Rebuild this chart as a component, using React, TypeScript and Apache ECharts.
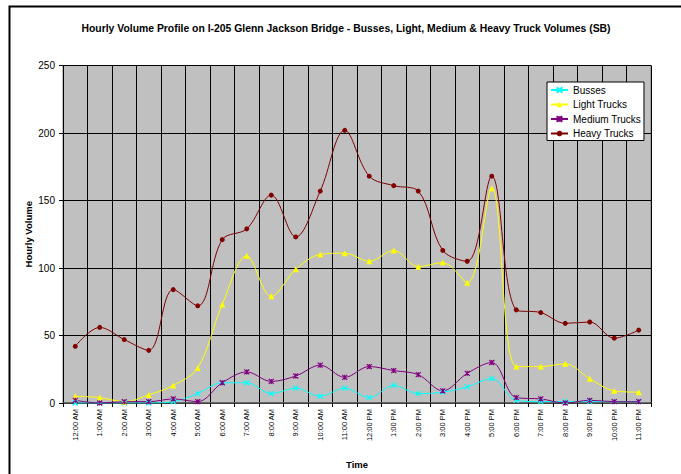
import React, { useEffect, useRef } from 'react';
import * as echarts from 'echarts';

const hours = [
  '12:00 AM', '1:00 AM', '2:00 AM', '3:00 AM', '4:00 AM', '5:00 AM',
  '6:00 AM', '7:00 AM', '8:00 AM', '9:00 AM', '10:00 AM', '11:00 AM',
  '12:00 PM', '1:00 PM', '2:00 PM', '3:00 PM', '4:00 PM', '5:00 PM',
  '6:00 PM', '7:00 PM', '8:00 PM', '9:00 PM', '10:00 PM', '11:00 PM',
];
const busses = [0, 0, 0, 0, 1, 7, 15, 15, 7, 11, 5, 11, 4, 13, 7, 8, 12, 18, 2, 1, 1, 1, 1, 1];
const lightTrucks = [5, 4, 1, 6, 13, 26, 73, 109, 79, 99, 110, 111, 105, 113, 101, 104, 89, 159, 27, 27, 29, 18, 9, 8];
const mediumTrucks = [2, 0, 1, 1, 3, 1, 15, 23, 16, 20, 28, 19, 27, 24, 21, 9, 22, 30, 4, 3, 0, 2, 1, 1];
const heavyTrucks = [42, 56, 47, 39, 84, 72, 121, 129, 154, 123, 157, 202, 168, 161, 157, 113, 105, 168, 69, 67, 59, 60, 48, 54];
const yMin = 0;
const yMax = 250;
const yInterval = 50;

const FONT = '"Liberation Sans", Arial, sans-serif';

export default function App() {
  const ref = useRef<HTMLDivElement>(null);
  useEffect(() => {
    const chart = echarts.init(ref.current!, null, { renderer: 'svg' });
    const smooth = 0.35;
    chart.setOption({
      animation: false,
      backgroundColor: '#ffffff',
      textStyle: { fontFamily: FONT },
      title: {
        text: 'Hourly Volume Profile on I-205 Glenn Jackson Bridge - Busses, Light, Medium & Heavy Truck Volumes (SB)',
        left: 346,
        top: 23,
        padding: 0,
        textAlign: 'center',
        textStyle: { fontSize: 10.4, fontWeight: 'bold', color: '#000', fontFamily: FONT },
      },
      legend: {
        orient: 'vertical',
        left: 547,
        top: 82,
        padding: [2.5, 3, 1.5, 3],
        itemWidth: 17,
        itemHeight: 7,
        itemGap: 3.5,
        backgroundColor: '#ffffff',
        borderColor: '#000',
        borderWidth: 1,
        borderRadius: 0,
        textStyle: { fontSize: 10, color: '#000', fontFamily: FONT, lineHeight: 11 },
        data: ['Busses', 'Light Trucks', 'Medium Trucks', 'Heavy Trucks'],
      },
      grid: {
        left: 63,
        right: 30,
        top: 65.5,
        bottom: 70.5,
        show: true,
        backgroundColor: '#C0C0C0',
        borderColor: '#808080',
        borderWidth: 1,
        containLabel: false,
      },
      xAxis: {
        type: 'category',
        data: hours,
        boundaryGap: true,
        axisLine: { show: true, lineStyle: { color: '#555', width: 1.5 } },
        axisTick: { show: true, length: 4, alignWithLabel: false, interval: 0, lineStyle: { color: '#000' } },
        axisLabel: { rotate: 90, fontSize: 7.5, margin: 6, interval: 0, color: '#000', fontFamily: FONT },
        splitLine: { show: true, interval: 0, lineStyle: { color: '#000', width: 1 } },
        name: 'Time',
        nameLocation: 'middle',
        nameGap: 56,
        nameMoveOverlap: false,
        nameTextStyle: { fontWeight: 'bold', fontSize: 9.5, color: '#000', fontFamily: FONT },
      },
      yAxis: {
        type: 'value',
        min: yMin,
        max: yMax,
        interval: yInterval,
        axisLine: { show: true, lineStyle: { color: '#000', width: 1 } },
        axisTick: { show: true, length: 4, lineStyle: { color: '#000' } },
        axisLabel: { fontSize: 10, margin: 8, color: '#000', fontFamily: FONT },
        splitLine: { show: true, lineStyle: { color: '#000', width: 1 } },
        name: 'Hourly Volume',
        nameLocation: 'middle',
        nameGap: 30,
        nameMoveOverlap: false,
        nameTextStyle: { fontWeight: 'bold', fontSize: 9.5, color: '#000', fontFamily: FONT },
      },
      series: [
        {
          name: 'Busses',
          type: 'line',
          data: busses,
          smooth,
          symbol: 'path://M0,0L10,10M10,0L0,10',
          symbolSize: 5,
          lineStyle: { color: '#00FFFF', width: 1 },
          itemStyle: { color: '#00FFFF', borderColor: '#00FFFF', borderWidth: 1.2 },
        },
        {
          name: 'Light Trucks',
          type: 'line',
          data: lightTrucks,
          smooth,
          symbol: 'triangle',
          symbolSize: 6,
          lineStyle: { color: '#FFFF00', width: 1 },
          itemStyle: { color: '#FFFF00' },
        },
        {
          name: 'Medium Trucks',
          type: 'line',
          data: mediumTrucks,
          smooth,
          symbol: 'path://M0,0L10,10M10,0L0,10M5,0L5,10',
          symbolSize: 5,
          lineStyle: { color: '#800080', width: 1 },
          itemStyle: { color: '#800080', borderColor: '#800080', borderWidth: 1.2 },
        },
        {
          name: 'Heavy Trucks',
          type: 'line',
          data: heavyTrucks,
          smooth,
          symbol: 'circle',
          symbolSize: 5,
          lineStyle: { color: '#800000', width: 1 },
          itemStyle: { color: '#800000' },
        },
      ],
      graphic: [
        {
          type: 'rect',
          shape: { x: 9.5, y: 6.5, width: 700, height: 500 },
          style: { fill: 'none', stroke: '#000', lineWidth: 2 },
          silent: true,
        },
      ],
    });
    return () => chart.dispose();
  }, []);
  return (
    <div
      ref={ref}
      style={{ position: 'absolute', left: 0, top: 0, width: 681, height: 474 }}
    />
  );
}
